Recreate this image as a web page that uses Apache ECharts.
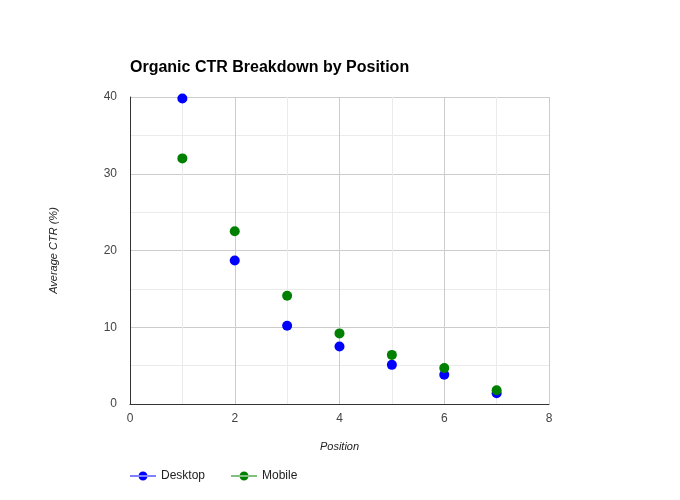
<!DOCTYPE html>
<html>
<head>
<meta charset="utf-8">
<script src="https://cdn.jsdelivr.net/npm/echarts@6/dist/echarts.min.js"></script>
<style>html,body{margin:0;padding:0;background:#fff}#c{width:680px;height:500px}</style>
</head>
<body>
<div id="c"></div>
<script>
var positions = [1, 2, 3, 4, 5, 6, 7];
var desktopCTR = [39.8, 18.7, 10.2, 7.5, 5.1, 3.8, 1.4];
var mobileCTR = [32.0, 22.5, 14.1, 9.2, 6.4, 4.7, 1.8];
var xTicks = [0, 2, 4, 6, 8];
var yTicks = [0, 10, 20, 30, 40];

function pairs(xs, ys) { return xs.map(function (x, i) { return [x, ys[i]]; }); }

var icon = 'path://M0,4.5L26,4.5L26,5.5L0,5.5Z M8.5,5A4.5,4.5 0 1,0 17.5,5A4.5,4.5 0 1,0 8.5,5Z';
var font = 'Arial, "Liberation Sans", sans-serif';

var chart = echarts.init(document.getElementById('c'), null, {renderer: 'canvas'});
chart.setOption({
  animation: false,
  backgroundColor: '#fff',
  textStyle: {fontFamily: font},
  title: {
    text: 'Organic CTR Breakdown by Position',
    left: 130, top: 60, padding: 0,
    textStyle: {fontSize: 16, fontWeight: 'bold', color: '#000', fontFamily: font}
  },
  grid: {left: 130, right: 131, top: 97, bottom: 96, containLabel: false},
  legend: {
    left: 125, bottom: 13,
    itemWidth: 26, itemHeight: 10, itemGap: 26,
    icon: icon,
    textStyle: {fontSize: 12, color: '#222', fontFamily: font},
    data: [{name: 'Desktop', icon: icon}, {name: 'Mobile', icon: icon}]
  },
  xAxis: {
    type: 'value', min: xTicks[0], max: xTicks[xTicks.length - 1], interval: 2,
    name: 'Position', nameLocation: 'middle', nameGap: 37,
    nameTextStyle: {fontStyle: 'italic', fontSize: 11, color: '#222', fontFamily: font},
    axisLine: {show: true, onZero: false, lineStyle: {color: '#333', width: 1}},
    axisTick: {show: false},
    axisLabel: {fontSize: 12, color: '#444', margin: 9, fontFamily: font},
    splitLine: {show: true, lineStyle: {color: '#cccccc'}},
    minorTick: {show: false, splitNumber: 2},
    minorSplitLine: {show: true, lineStyle: {color: '#ebebeb'}}
  },
  yAxis: {
    type: 'value', min: yTicks[0], max: yTicks[yTicks.length - 1], interval: 10,
    name: 'Average CTR (%)', nameLocation: 'middle', nameGap: 71, nameRotate: 90,
    nameTextStyle: {fontStyle: 'italic', fontSize: 11, color: '#222', fontFamily: font},
    axisLine: {show: true, onZero: false, lineStyle: {color: '#333', width: 1}},
    axisTick: {show: false},
    axisLabel: {fontSize: 12, color: '#444', margin: 13, fontFamily: font},
    splitLine: {show: true, lineStyle: {color: '#cccccc'}},
    minorTick: {show: false, splitNumber: 2},
    minorSplitLine: {show: true, lineStyle: {color: '#ebebeb'}}
  },
  series: [
    {
      name: 'Desktop', type: 'scatter', symbolSize: 10,
      itemStyle: {color: '#0000ff', opacity: 1},
      data: pairs(positions, desktopCTR)
    },
    {
      name: 'Mobile', type: 'scatter', symbolSize: 10,
      itemStyle: {color: '#008000', opacity: 1},
      data: pairs(positions, mobileCTR)
    }
  ]
});
</script>
</body>
</html>
